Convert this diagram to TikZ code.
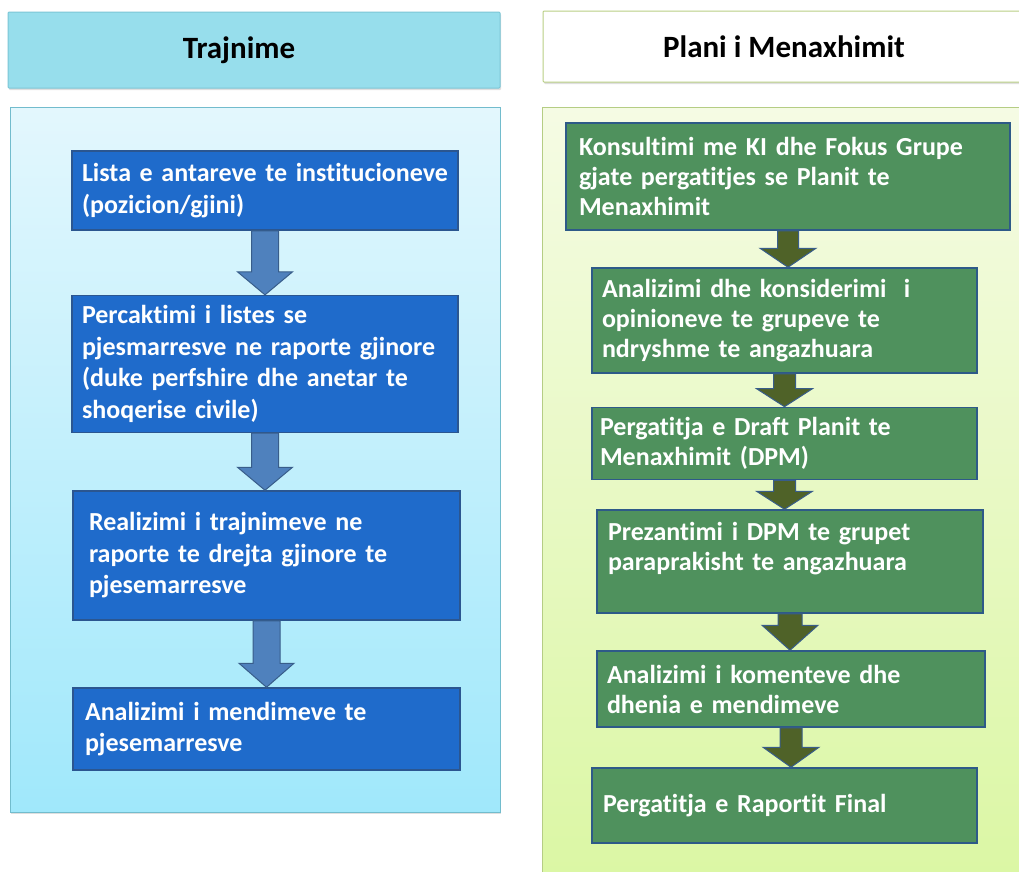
\documentclass[tikz,border=0pt]{standalone}
\usepackage{fontspec}
\setmainfont{Carlito}[Ligatures=NoCommon]
\usepackage{tikz}
\usetikzlibrary{calc,shadows}
\definecolor{hdrblue}{HTML}{97DEEC}
\definecolor{hdrblueline}{HTML}{7CC6D6}
\definecolor{panelbluetop}{HTML}{E3F7FD}
\definecolor{panelbluebot}{HTML}{A0E8FB}
\definecolor{panelblueline}{HTML}{72BCCD}
\definecolor{stepblue}{HTML}{1F6BCB}
\definecolor{stepblueline}{HTML}{2B5690}
\definecolor{arrowblue}{HTML}{4F81BD}
\definecolor{arrowblueline}{HTML}{385D8A}
\definecolor{hdrgreenline}{HTML}{B9CF85}
\definecolor{panelgreentop}{HTML}{F5FBE4}
\definecolor{panelgreenbot}{HTML}{DBF7A4}
\definecolor{panelgreenline}{HTML}{B5CD84}
\definecolor{stepgreen}{HTML}{4F915D}
\definecolor{stepgreenline}{HTML}{2E5A88}
\definecolor{arrowolive}{HTML}{4F6228}
\tikzset{
  hdr/.style={rectangle, rounded corners=1pt, line width=1pt, inner sep=0pt,
    font=\fontsize{31}{36}\selectfont\bfseries, text=black,
    drop shadow={opacity=0.25, shadow xshift=1pt, shadow yshift=-2pt}},
  panel/.style={rectangle, line width=1pt, inner sep=0pt,
    drop shadow={opacity=0.25, shadow xshift=1pt, shadow yshift=-2pt}},
  bstep/.style={rectangle, fill=stepblue, draw=stepblueline, line width=1.5pt,
    text=white, align=left, inner sep=10pt,
    font=\fontsize{26}{31.5}\selectfont\bfseries},
  gstep/.style={rectangle, fill=stepgreen, draw=stepgreenline, line width=1.5pt,
    text=white, align=left, inner sep=10pt,
    font=\fontsize{26}{30}\selectfont\bfseries},
  barrow/.style={fill=arrowblue, draw=arrowblueline, line width=1pt, line join=miter},
  garrow/.style={fill=arrowolive, draw=arrowblueline, line width=1pt, line join=miter}
}
% #1 style, #2 from, #3 to, #4 half shaft, #5 half head, #6 head length
\newcommand{\flowarrow}[6]{%
  \path[#1] let \p1=(#2.south), \p2=(#3.north) in
    (\x1-#4,\y1) -- (\x1-#4,\y2+#6) -- (\x1-#5,\y2+#6) -- (\x1,\y2)
    -- (\x1+#5,\y2+#6) -- (\x1+#4,\y2+#6) -- (\x1+#4,\y1) -- cycle;}

\begin{document}
\begin{tikzpicture}[x=1pt, y=-1pt]
  \useasboundingbox (0,0) rectangle (1019,871);
  \fill[white] (0,0) rectangle (1019,871);
  \clip (0,0) rectangle (1019,871);

  % headers and panels
  \node[hdr, fill=hdrblue, draw=hdrblueline, minimum width=492pt, minimum height=76pt] (hleft) at (254,50) {\hspace*{-30pt}Trajnime};
  \node[hdr, fill=white, draw=hdrgreenline, minimum width=482pt, minimum height=71pt] (hright) at (784,46.5) {Plani i Menaxhimit};
  \node[panel, top color=panelbluetop, bottom color=panelbluebot, draw=panelblueline, minimum width=490pt, minimum height=705pt] (pleft) at (255,459.5) {};
  \node[panel, top color=panelgreentop, bottom color=panelgreenbot, draw=panelgreenline, minimum width=483pt, minimum height=773pt] (pright) at (783.5,493.5) {};

  % Trajnime
  \node[bstep, text width=366pt, minimum height=79pt] (b1) at (265,190.5) {Lista e antareve te institucioneve\\(pozicion/gjini)};
  \node[bstep, text width=366pt, minimum height=128pt] (b2) at (265,364) {Percaktimi i listes se\\pjesmarresve ne raporte gjinore\\(duke perfshire dhe anetar te\\shoqerise civile)};
  \node[bstep, inner xsep=16pt, text width=355pt, minimum height=129pt] (b3) at (266.5,555.5) {Realizimi i trajnimeve ne\\raporte te drejta gjinore te\\pjesemarresve};
  \node[bstep, inner xsep=12pt, text width=363pt, minimum height=82pt] (b4) at (266.5,729) {Analizimi i mendimeve te\\pjesemarresve};
  \flowarrow{barrow}{b1}{b2}{13.5pt}{27.5pt}{23pt}
  \flowarrow{barrow}{b2}{b3}{13.5pt}{27.5pt}{23pt}
  \flowarrow{barrow}{b3}{b4}{13.5pt}{27.5pt}{24pt}

  % Plani i Menaxhimit
  \node[gstep, inner xsep=13pt, text width=418pt, minimum height=107pt] (g1) at (788,176.5) {Konsultimi me KI dhe Fokus Grupe\\gjate pergatitjes se Planit te\\Menaxhimit};
  \node[gstep, text width=365pt, minimum height=105pt] (g2) at (784.5,320.5) {Analizimi dhe konsiderimi\ \ i\\opinioneve te grupeve te\\ndryshme te angazhuara};
  \node[gstep, inner xsep=8pt, text width=369pt, minimum height=67pt] (g3) at (784.5,443.5) {Pergatitja e Draft Planit te\\Menaxhimit (DPM)};
  \node[gstep, inner xsep=11pt, text width=364pt, minimum height=103pt] (g4) at (790,561.5) {Prezantimi i DPM te grupet\\paraprakisht te angazhuara\\\mbox{}};
  \node[gstep, text width=368pt, minimum height=76pt] (g5) at (791,689) {Analizimi i komenteve dhe\\dhenia e mendimeve};
  \node[gstep, inner xsep=11pt, text width=363pt, minimum height=75pt] (g6) at (784.5,805.5) {Pergatitja e Raportit Final};
  \flowarrow{garrow}{g1}{g2}{10.5pt}{28pt}{19pt}
  \flowarrow{garrow}{g2}{g3}{11pt}{28pt}{18pt}
  \flowarrow{garrow}{g3}{g4}{11pt}{28pt}{18pt}
  \flowarrow{garrow}{g4}{g5}{12pt}{28pt}{25pt}
  \flowarrow{garrow}{g5}{g6}{11pt}{28pt}{20pt}
\end{tikzpicture}
\end{document}
